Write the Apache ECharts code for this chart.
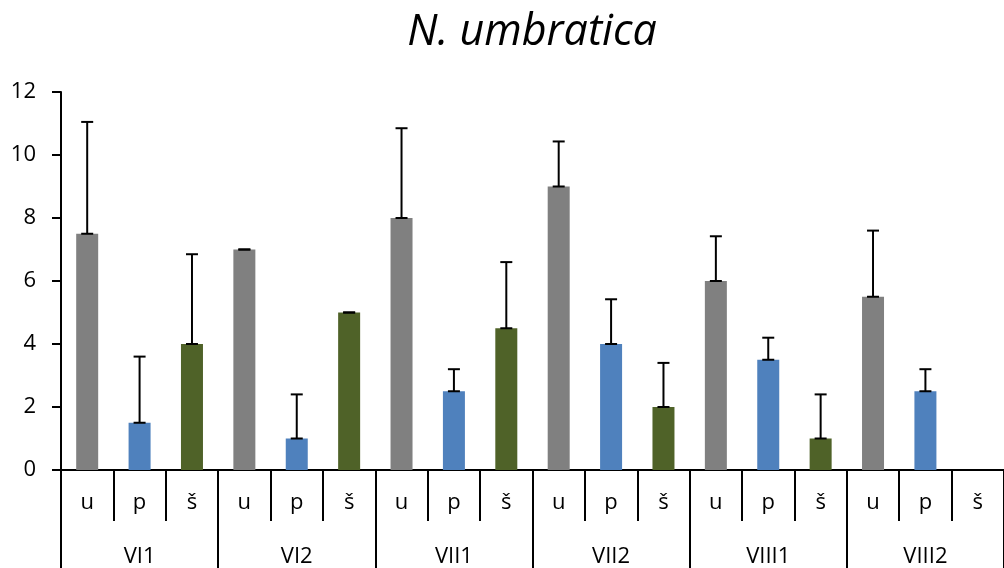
<!DOCTYPE html>
<html>
<head>
<meta charset="utf-8">
<script src="https://cdn.jsdelivr.net/npm/echarts@6/dist/echarts.min.js"></script>
<style>html,body{margin:0;padding:0;background:#fff;}#c{width:1004px;height:568px;}</style>
</head>
<body>
<div id="c"></div>
<script>
const groups = ['VI1','VI2','VII1','VII2','VIII1','VIII2'];
const types = ['u','p','š'];
const typeColors = ['#808080','#4F81BD','#4F6228'];
// mean values per group, order u, p, š
const valU = [7.5, 7.0, 8.0, 9.0, 6.0, 5.5];
const valP = [1.5, 1.0, 2.5, 4.0, 3.5, 2.5];
const valS = [4.0, 5.0, 4.5, 2.0, 1.0, 0];
// upper error (added on top of value)
const errU = [3.55, 0, 2.85, 1.43, 1.42, 2.1];
const errP = [2.1, 1.4, 0.7, 1.42, 0.7, 0.7];
const errS = [2.85, 0, 2.1, 1.4, 1.4, null];

const cats = [], barData = [], errData = [];
const vals = [valU, valP, valS], errs = [errU, errP, errS];
groups.forEach((g, gi) => {
  types.forEach((t, ti) => {
    const idx = cats.length;
    cats.push(t);
    barData.push({value: vals[ti][gi], itemStyle: {color: typeColors[ti]}});
    if (errs[ti][gi] !== null && vals[ti][gi] > 0) {
      errData.push([idx, vals[ti][gi], vals[ti][gi] + errs[ti][gi]]);
    }
  });
});

const chart = echarts.init(document.getElementById('c'));
const FONT = 'Open Sans';
chart.setOption({
  animation: false,
  backgroundColor: '#fff',
  title: {
    text: 'N. umbratica',
    left: 527,
    textAlign: 'center',
    top: 6,
    textStyle: {fontFamily: FONT, fontStyle: 'italic', fontWeight: 'normal', fontSize: 43, color: '#000'}
  },
  grid: {left: 61, right: 0, top: 92, bottom: 98, containLabel: false},
  xAxis: [{
    type: 'category',
    data: cats,
    boundaryGap: true,
    axisLine: {show: true, lineStyle: {color: '#000', width: 2}},
    axisTick: {show: true, inside: false, length: 51, interval: 0, lineStyle: {color: '#000', width: 2}},
    axisLabel: {interval: 0, margin: 22, fontFamily: FONT, fontSize: 22, color: '#000'},
    splitLine: {show: false}
  }, {
    type: 'category',
    data: groups,
    position: 'bottom',
    boundaryGap: true,
    axisLine: {show: false},
    axisTick: {show: true, length: 100, interval: 0, lineStyle: {color: '#000', width: 2}},
    axisLabel: {interval: 0, margin: 76, fontFamily: FONT, fontSize: 22, color: '#000'},
    splitLine: {show: false}
  }],
  yAxis: {
    type: 'value',
    min: 0, max: 12, interval: 2,
    axisLine: {show: true, lineStyle: {color: '#000', width: 2}},
    axisTick: {show: true, length: 9, lineStyle: {color: '#000', width: 2}},
    axisLabel: {margin: 25, fontFamily: FONT, fontSize: 22, color: '#000'},
    splitLine: {show: false}
  },
  series: [{
    type: 'bar',
    xAxisIndex: 0,
    data: barData,
    barWidth: 22,
    z: 2
  }, {
    type: 'custom',
    xAxisIndex: 0,
    data: errData,
    z: 5,
    renderItem: function (params, api) {
      const x = api.value(0);
      const lo = api.coord([x, api.value(1)]);
      const hi = api.coord([x, api.value(2)]);
      const hw = 6;
      const style = {stroke: '#000', lineWidth: 2};
      return {
        type: 'group',
        children: [
          {type: 'line', shape: {x1: lo[0], y1: lo[1], x2: hi[0], y2: hi[1]}, style: style},
          {type: 'line', shape: {x1: hi[0] - hw, y1: hi[1], x2: hi[0] + hw, y2: hi[1]}, style: style},
          {type: 'line', shape: {x1: lo[0] - hw, y1: lo[1], x2: lo[0] + hw, y2: lo[1]}, style: style}
        ]
      };
    }
  }]
});
</script>
</body>
</html>
